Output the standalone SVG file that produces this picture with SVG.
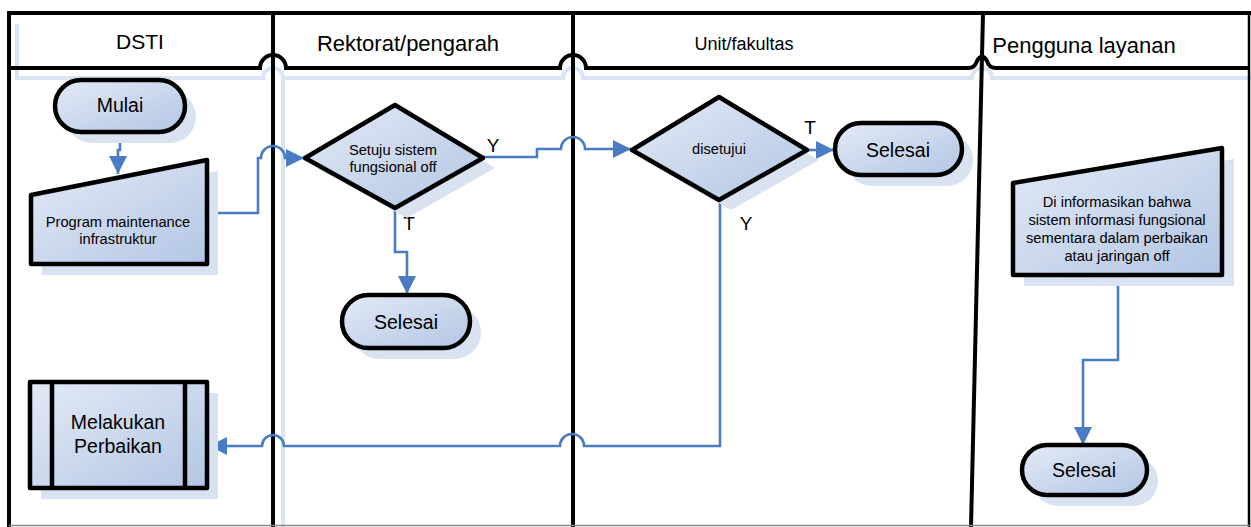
<svg xmlns="http://www.w3.org/2000/svg" width="1251" height="527" viewBox="0 0 1251 527">
<defs>
<linearGradient id="g" x1="0" y1="0" x2="1" y2="1">
<stop offset="0" stop-color="#e3eaf6"/>
<stop offset="1" stop-color="#b3c6e4"/>
</linearGradient>
<marker id="arr" viewBox="0 0 10 10" refX="10" refY="5" markerWidth="7" markerHeight="7" orient="auto" markerUnits="strokeWidth">
<path d="M0,0 L10,5 L0,10 z" fill="#4a7cc4"/>
</marker>
<style>
.frame{fill:none;stroke:#000;stroke-width:4}
.sh{fill:#d9e2f1;stroke:none}
.shl{fill:none;stroke:#dbe4f2;stroke-width:4}
.node{fill:url(#g);stroke:#000;stroke-width:4.5;stroke-linejoin:round}
.con{fill:none;stroke:#4a7cc4;stroke-width:2.6}
.t{font-family:"Liberation Sans",Arial,sans-serif;fill:#000;text-anchor:middle}
.big{font-size:19.5px}
.sm{font-size:14.7px}
.hd{font-size:22px}
</style>
</defs>
<rect width="1251" height="527" fill="#fff"/>
<g id="lanes">
<path class="shl" d="M17,24 V78 H263 A10,10 0 0 1 283,78 H563 A10,10 0 0 1 583,78 H972 A10,10 0 0 1 992,78 H1251"/>
<path class="shl" d="M283,80 V527"/>
<path class="frame" d="M7,13 H1251"/>
<path class="frame" d="M9,13 V527"/>
<path class="frame" d="M273,13 V527"/>
<path class="frame" d="M573,13 V527"/>
<path class="frame" d="M983,13 L971,527"/>
<path fill="none" stroke="#000" stroke-width="2.5" d="M1249,13 V527"/>
<path fill="none" stroke="#888" stroke-width="1.5" d="M9,525.5 H1251"/>
<path class="frame" d="M9,68 H260 A13,13 0 0 1 286,68 H560 A13,13 0 0 1 586,68 H968 Q975,68 977,61 Q982,52 987,61 Q989,68 996,68 H1249"/>
<text class="t hd" x="140" y="49" style="font-size:21px">DSTI</text>
<text class="t hd" x="408" y="51">Rektorat/pengarah</text>
<text class="t" x="744" y="50" style="font-size:18px">Unit/fakultas</text>
<text class="t hd" x="1084" y="53">Pengguna layanan</text>
</g>
<g id="connectors">
<path class="con" d="M120,133 V150 H118 V174" marker-end="url(#arr)"/>
<path class="con" d="M207,213 H258 V158 H261 A12,12 0 0 1 285,158 H304" marker-end="url(#arr)"/>
<path class="con" d="M483,157 H537 V149 H561 A12,12 0 0 1 585,149 H631" marker-end="url(#arr)"/>
<path class="con" d="M395,208 V252 H407 V294" marker-end="url(#arr)"/>
<path class="con" d="M807,150 H834" marker-end="url(#arr)"/>
<path class="con" d="M720,200 V446 H584 A12,12 0 0 0 560,446 H284 A11,11 0 0 0 262,446 H209" marker-end="url(#arr)"/>
<path class="con" d="M1118,275 V360 H1083 V445" marker-end="url(#arr)"/>
<text class="t" x="493" y="152" style="font-size:19px">Y</text>
<text class="t" x="409" y="230" style="font-size:19px">T</text>
<text class="t" x="810" y="134" style="font-size:19px">T</text>
<text class="t" x="746" y="230" style="font-size:19px">Y</text>
</g>
<g id="mulai">
<rect class="sh" x="66" y="91" width="130" height="52" rx="26"/>
<rect class="node" x="55" y="80" width="130" height="52" rx="26"/>
<text class="t big" x="120" y="112">Mulai</text>
</g>
<g id="program">
<polygon class="sh" points="42,206 218,171 218,275 42,275"/>
<polygon class="node" points="31,195 207,160 207,264 31,264"/>
<text class="t sm" x="118" y="227">Program maintenance</text>
<text class="t sm" x="118" y="244">infrastruktur</text>
</g>
<g id="setuju">
<polygon class="sh" points="407,115 495,168 407,218 317,168"/>
<polygon class="node" points="395,105 483,158 395,208 305,158"/>
<text class="t sm" x="393" y="155">Setuju sistem</text>
<text class="t sm" x="393" y="172">fungsional off</text>
</g>
<g id="selesai1">
<rect class="sh" x="353" y="306" width="128" height="53" rx="26.5"/>
<rect class="node" x="342" y="295" width="128" height="53" rx="26.5"/>
<text class="t big" x="406" y="329">Selesai</text>
</g>
<g id="disetujui">
<polygon class="sh" points="731,107 819,160 731,210 644,160"/>
<polygon class="node" points="719,97 807,150 719,200 632,150"/>
<text class="t sm" x="719" y="154">disetujui</text>
</g>
<g id="selesai2">
<rect class="sh" x="846" y="134" width="127" height="52" rx="26"/>
<rect class="node" x="835" y="123" width="127" height="52" rx="26"/>
<text class="t big" x="898" y="157">Selesai</text>
</g>
<g id="informasi">
<polygon class="sh" points="1024,194 1234,159 1234,286 1024,286"/>
<polygon class="node" points="1013,183 1222,148 1222,275 1013,275"/>
<text class="t sm" x="1117" y="207">Di informasikan bahwa</text>
<text class="t sm" x="1117" y="225">sistem informasi fungsional</text>
<text class="t sm" x="1117" y="243">sementara dalam perbaikan</text>
<text class="t sm" x="1117" y="261">atau jaringan off</text>
</g>
<g id="selesai3">
<rect class="sh" x="1033" y="456" width="125" height="50" rx="25"/>
<rect class="node" x="1022" y="445" width="125" height="50" rx="25"/>
<text class="t big" x="1084" y="477">Selesai</text>
</g>
<g id="perbaikan">
<rect class="sh" x="41" y="393" width="177" height="106"/>
<rect class="node" x="30" y="382" width="177" height="106"/>
<path fill="none" stroke="#000" stroke-width="4.5" d="M52,382 V488 M185,382 V488"/>
<text class="t big" x="118" y="429">Melakukan</text>
<text class="t big" x="118" y="453">Perbaikan</text>
</g>
</svg>
